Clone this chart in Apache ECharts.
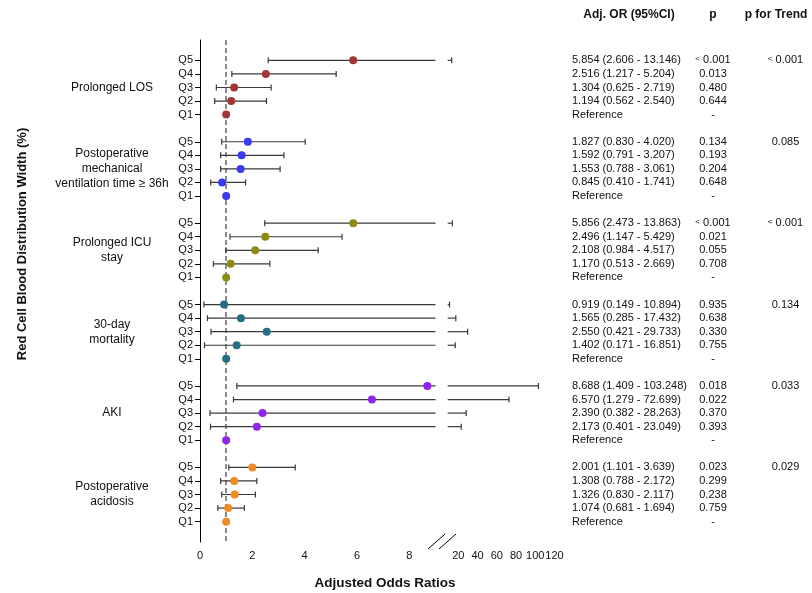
<!DOCTYPE html>
<html>
<head>
<meta charset="utf-8">
<script src="https://cdn.jsdelivr.net/npm/echarts@6/dist/echarts.min.js"></script>
<style>
  html, body { margin: 0; padding: 0; background: #fff; }
  #chart { width: 812px; height: 593px; }
</style>
</head>
<body>
<div id="chart"></div>
<script>
// forest plot: adjusted ORs per RDW quintile, broken x axis (0-9 | 9-120)

const groupNames = [
  'Prolonged LOS',
  'Postoperative\nmechanical\nventilation time \u2265 36h',
  'Prolonged ICU\nstay',
  '30-day\nmortality',
  'AKI',
  'Postoperative\nacidosis'
];
const groupColors = ['#a23535', '#3a3af0', '#8c8c14', '#236e82', '#8f24ee', '#f08a24'];
const quintiles = ['Q5', 'Q4', 'Q3', 'Q2', 'Q1'];

const orValues = [
  [5.854, 2.516, 1.304, 1.194, 1],
  [1.827, 1.592, 1.553, 0.845, 1],
  [5.856, 2.496, 2.108, 1.170, 1],
  [0.919, 1.565, 2.550, 1.402, 1],
  [8.688, 6.570, 2.390, 2.173, 1],
  [2.001, 1.308, 1.326, 1.074, 1]
];
const ciLower = [
  [2.606, 1.217, 0.625, 0.562, 1],
  [0.830, 0.791, 0.788, 0.410, 1],
  [2.473, 1.147, 0.984, 0.513, 1],
  [0.149, 0.285, 0.421, 0.171, 1],
  [1.409, 1.279, 0.382, 0.401, 1],
  [1.101, 0.788, 0.830, 0.681, 1]
];
const ciUpper = [
  [13.146, 5.204, 2.719, 2.540, 1],
  [4.020, 3.207, 3.061, 1.741, 1],
  [13.863, 5.429, 4.517, 2.669, 1],
  [10.894, 17.432, 29.733, 16.851, 1],
  [103.248, 72.699, 28.263, 23.049, 1],
  [3.639, 2.172, 2.117, 1.694, 1]
];
const pValues = [
  ['< 0.001', '0.013', '0.480', '0.644', '-'],
  ['0.134', '0.193', '0.204', '0.648', '-'],
  ['< 0.001', '0.021', '0.055', '0.708', '-'],
  ['0.935', '0.638', '0.330', '0.755', '-'],
  ['0.018', '0.022', '0.370', '0.393', '-'],
  ['0.023', '0.299', '0.238', '0.759', '-']
];
const pTrend = ['< 0.001', '0.085', '< 0.001', '0.134', '0.033', '0.029'];

const lowTicks = [0, 2, 4, 6, 8];
const highTicks = [20, 40, 60, 80, 100, 120];
const breakAt = 9;      // end of the lower segment / start of the upper one
const highMax = 120;
const refOR = 1;

// category rows: blank pad, 5 quintiles per group, one blank between groups
const rowKeys = ['pad-top'];
groupNames.forEach((g, gi) => {
  if (gi > 0) rowKeys.push('gap-' + gi);
  quintiles.forEach(q => rowKeys.push(gi + '|' + q));
});
rowKeys.push('pad-bottom');

function rowInfo(key) {
  if (key.indexOf('|') < 0) return null;
  const parts = key.split('|');
  return { gi: +parts[0], qi: quintiles.indexOf(parts[1]) };
}

const FONT = 'Arial, "Liberation Sans", sans-serif';
const INK = '#111';

function lessThan(s) {
  return s.indexOf('<') === 0 ? '{lt|<}' + s.slice(1) : s;
}

const dotData = [];
const barData = [];
groupNames.forEach((g, gi) => {
  quintiles.forEach((q, qi) => {
    const key = gi + '|' + q;
    dotData.push({ value: [orValues[gi][qi], key], itemStyle: { color: groupColors[gi], opacity: 1 } });
    barData.push([ciLower[gi][qi], ciUpper[gi][qi], key]);
  });
});

// error bar drawn inside one x segment; caps only where the end is inside it
function errorBar(segMin, segMax) {
  return function (params, api) {
    const lo = api.value(0), hi = api.value(1), row = api.value(2);
    if (lo === hi) return null;
    const a = Math.max(lo, segMin), b = Math.min(hi, segMax);
    if (a >= b) return null;
    const p1 = api.coord([a, row]);
    const p2 = api.coord([b, row]);
    const style = { stroke: '#3a3a3a', lineWidth: 1.2 };
    const children = [{ type: 'line', shape: { x1: p1[0], y1: p1[1], x2: p2[0], y2: p2[1] }, style }];
    if (lo >= segMin) children.push({ type: 'line', shape: { x1: p1[0], y1: p1[1] - 3, x2: p1[0], y2: p1[1] + 3 }, style });
    if (hi <= segMax) children.push({ type: 'line', shape: { x1: p2[0], y1: p2[1] - 3, x2: p2[0], y2: p2[1] + 3 }, style });
    return { type: 'group', children };
  };
}

function catAxis(extra) {
  return Object.assign({
    type: 'category',
    data: rowKeys,
    inverse: true,
    boundaryGap: true,
    axisLine: { show: false, onZero: false },
    axisTick: { show: false },
    splitLine: { show: false }
  }, extra);
}

const chart = echarts.init(document.getElementById('chart'), null, { renderer: 'canvas' });

chart.setOption({
  animation: false,
  backgroundColor: '#fff',
  grid: [
    { left: 200, top: 40, width: 235.5, height: 502 },
    { left: 447.7, top: 40, width: 106.8, height: 502 }
  ],
  xAxis: [
    {
      gridIndex: 0, type: 'value', min: 0, max: breakAt,
      axisLine: { lineStyle: { color: '#000', width: 1 }, onZero: false },
      axisTick: { length: 4, customValues: lowTicks, lineStyle: { color: '#000' } },
      axisLabel: { customValues: lowTicks, color: INK, fontFamily: FONT, fontSize: 11, margin: 8 },
      splitLine: { show: false }
    },
    {
      gridIndex: 1, type: 'value', min: breakAt, max: highMax,
      axisLine: { lineStyle: { color: '#000', width: 1 }, onZero: false },
      axisTick: { length: 4, customValues: highTicks, lineStyle: { color: '#000' } },
      axisLabel: { customValues: highTicks, color: INK, fontFamily: FONT, fontSize: 11, margin: 8 },
      splitLine: { show: false }
    }
  ],
  yAxis: [
    catAxis({
      gridIndex: 0, position: 'left',
      axisLine: { show: true, onZero: false, lineStyle: { color: '#000', width: 1 } },
      axisTick: {
        show: true, length: 5, alignWithLabel: true,
        interval: (i, v) => rowInfo(v) !== null,
        lineStyle: { color: '#000' }
      },
      axisLabel: {
        interval: 0, margin: 7, color: INK, fontFamily: FONT, fontSize: 11,
        formatter: v => { const r = rowInfo(v); return r ? quintiles[r.qi] : ''; }
      }
    }),
    catAxis({
      gridIndex: 0, position: 'left',
      axisLabel: {
        interval: 0, margin: 88, align: 'center', color: INK, fontFamily: FONT,
        fontSize: 12, lineHeight: 15,
        formatter: v => { const r = rowInfo(v); return r && r.qi === 2 ? groupNames[r.gi] : ''; }
      }
    }),
    catAxis({
      gridIndex: 1, position: 'right',
      axisLabel: {
        interval: 0, margin: 17.5, align: 'left', color: INK, fontFamily: FONT, fontSize: 11,
        formatter: v => {
          const r = rowInfo(v);
          if (!r) return '';
          if (r.qi === 4) return 'Reference';
          return orValues[r.gi][r.qi].toFixed(3) + ' (' + ciLower[r.gi][r.qi].toFixed(3) +
            ' - ' + ciUpper[r.gi][r.qi].toFixed(3) + ')';
        }
      }
    }),
    catAxis({
      gridIndex: 1, position: 'right',
      axisLabel: {
        interval: 0, margin: 158.5, align: 'center', color: INK, fontFamily: FONT, fontSize: 11,
        rich: { lt: { fontSize: 8, fontFamily: FONT, color: INK, verticalAlign: 'top' } },
        formatter: v => { const r = rowInfo(v); return r ? lessThan(pValues[r.gi][r.qi]) : ''; }
      }
    }),
    catAxis({
      gridIndex: 1, position: 'right',
      axisLabel: {
        interval: 0, margin: 231, align: 'center', color: INK, fontFamily: FONT, fontSize: 11,
        rich: { lt: { fontSize: 8, fontFamily: FONT, color: INK, verticalAlign: 'top' } },
        formatter: v => { const r = rowInfo(v); return r && r.qi === 0 ? lessThan(pTrend[r.gi]) : ''; }
      }
    })
  ],
  series: [
    {
      // holder for the dashed OR = 1 reference line, drawn under the dots
      type: 'scatter', xAxisIndex: 0, yAxisIndex: 0, z: 1,
      data: [],
      markLine: {
        z: 1, silent: true, symbol: 'none', label: { show: false },
        lineStyle: { color: '#666', type: [5, 3], width: 1.5 },
        data: [{ xAxis: refOR }]
      }
    },
    {
      type: 'custom', xAxisIndex: 0, yAxisIndex: 0, z: 2,
      renderItem: errorBar(0, breakAt),
      encode: { x: [0, 1], y: 2 },
      data: barData
    },
    {
      type: 'custom', xAxisIndex: 1, yAxisIndex: 2, z: 2,
      renderItem: errorBar(breakAt, highMax),
      encode: { x: [0, 1], y: 2 },
      data: barData
    },
    {
      type: 'scatter', xAxisIndex: 0, yAxisIndex: 0, z: 6,
      symbol: 'circle', symbolSize: 8,
      data: dotData
    }
  ],
  graphic: [
    // axis break
    { type: 'rect', shape: { x: 429, y: 538, width: 24, height: 7 }, style: { fill: '#fff' }, z: 100 },
    { type: 'line', shape: { x1: 428, y1: 549, x2: 445, y2: 534 }, style: { stroke: '#000', lineWidth: 1 }, z: 101 },
    { type: 'line', shape: { x1: 439, y1: 549, x2: 456, y2: 534 }, style: { stroke: '#000', lineWidth: 1 }, z: 101 },
    // column headers and axis titles
    { type: 'text', x: 629, y: 15, z: 101, style: { text: 'Adj. OR (95%CI)', fill: INK, font: 'bold 12px ' + FONT, textAlign: 'center', textVerticalAlign: 'middle' } },
    { type: 'text', x: 713, y: 15, z: 101, style: { text: 'p', fill: INK, font: 'bold 12px ' + FONT, textAlign: 'center', textVerticalAlign: 'middle' } },
    { type: 'text', x: 776, y: 15, z: 101, style: { text: 'p for Trend', fill: INK, font: 'bold 12px ' + FONT, textAlign: 'center', textVerticalAlign: 'middle' } },
    { type: 'text', x: 385, y: 583, z: 101, style: { text: 'Adjusted Odds Ratios', fill: INK, font: 'bold 13.5px ' + FONT, textAlign: 'center', textVerticalAlign: 'middle' } },
    { type: 'text', x: 22, y: 244, rotation: Math.PI / 2, z: 101, style: { text: 'Red Cell Blood Distribution Width (%)', fill: INK, font: 'bold 13px ' + FONT, textAlign: 'center', textVerticalAlign: 'middle' } }
  ]
});
</script>
</body>
</html>
